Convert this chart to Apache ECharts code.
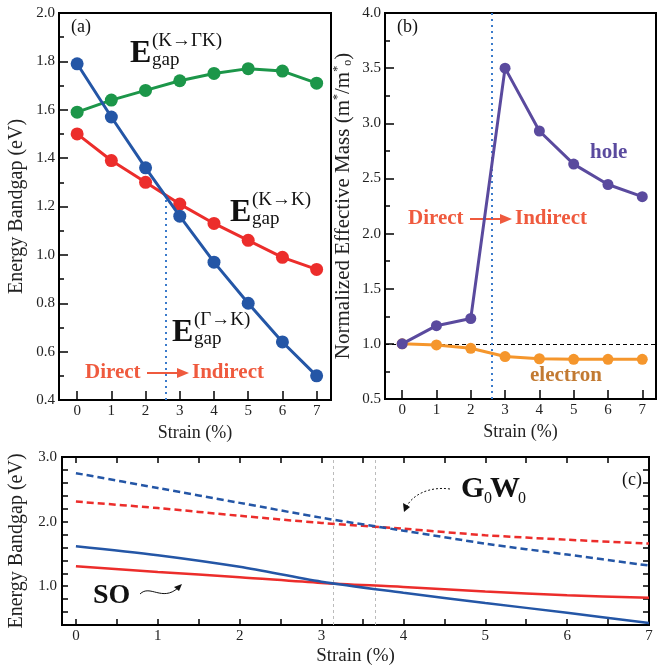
<!DOCTYPE html>
<html>
<head>
<meta charset="utf-8">
<script src="https://cdn.jsdelivr.net/npm/echarts@6/dist/echarts.min.js"></script>
<style>
  html, body { margin: 0; padding: 0; background: #fff; }
  #chart { width: 658px; height: 666px; }
</style>
</head>
<body>
<div id="chart"></div>
<script>
// strain axis and tick labels
const strain = [0, 1, 2, 3, 4, 5, 6, 7];
const strainTicksC = [0, 0.5, 1, 1.5, 2, 2.5, 3, 3.5, 4, 4.5, 5, 5.5, 6, 6.5, 7];
const gapTicksC = [0.4, 0.6, 0.8, 1.0, 1.2, 1.4, 1.6, 1.8, 2.0, 2.2, 2.4, 2.6, 2.8, 3.0];
const gapLabelsC = [1.0, 2.0, 3.0];

// (a) band gaps (eV)
const gapGammaK = [1.79, 1.57, 1.36, 1.16, 0.97, 0.80, 0.64, 0.50];
const gapKK = [1.50, 1.39, 1.30, 1.21, 1.13, 1.06, 0.99, 0.94];
const gapKGammaK = [1.59, 1.64, 1.68, 1.72, 1.75, 1.77, 1.76, 1.71];

// (b) normalized effective masses
const holeMass = [1.0, 1.165, 1.23, 3.50, 2.93, 2.63, 2.445, 2.335];
const electronMass = [1.0, 0.99, 0.96, 0.885, 0.865, 0.86, 0.86, 0.86];

// (c) SO and G0W0 band gaps (eV)
const soGammaK = [1.62, 1.48, 1.30, 1.07, 0.90, 0.74, 0.59, 0.43];
const soKK = [1.31, 1.22, 1.14, 1.05, 0.99, 0.92, 0.86, 0.82];
const gwGammaK = [2.75, 2.52, 2.29, 2.06, 1.86, 1.66, 1.49, 1.32];
const gwKK = [2.31, 2.21, 2.09, 1.98, 1.89, 1.79, 1.72, 1.66];

// transition markers
const crossoverA = 2.6;
const crossoverTopA = 1.23;
const crossoverB = 2.6;
const crossC = [3.14, 3.66];

const FONT = '"Liberation Serif", "Times New Roman", serif';
const BLUE = '#2456a6', RED = '#ec2d2b', GREEN = '#1c9649';
const PURPLE = '#5a4a9e', ORANGE = '#f5962c', TXTRED = '#ef5a3e';

const pts = ys => strain.map((s, i) => [s, ys[i]]);

const chart = echarts.init(document.getElementById('chart'));

const axisCommon = {
  axisLine: { show: true, onZero: false, lineStyle: { color: '#000', width: 2 } },
  splitLine: { show: false },
  axisLabel: { color: '#222', fontFamily: FONT, fontSize: 15 },
  nameTextStyle: { color: '#222', fontFamily: FONT, fontSize: 18 }
};

function egap(x, y, sup) {
  return {
    type: 'group',
    children: [
      { type: 'text', x: x, y: y, style: { text: 'E', font: 'bold 32px ' + FONT, fill: '#111', verticalAlign: 'middle' } },
      { type: 'text', x: x + 22, y: y - 13, style: { text: sup, font: '19px ' + FONT, fill: '#111', verticalAlign: 'middle' } },
      { type: 'text', x: x + 22, y: y + 6, style: { text: 'gap', font: '19px ' + FONT, fill: '#111', verticalAlign: 'middle' } }
    ]
  };
}

function directArrow(x, y) {
  return {
    type: 'group',
    children: [
      { type: 'text', x: x, y: y, style: { text: 'Direct', font: 'bold 21px ' + FONT, fill: TXTRED, verticalAlign: 'middle' } },
      { type: 'line', shape: { x1: x + 62, y1: y, x2: x + 96, y2: y }, style: { stroke: TXTRED, lineWidth: 2 } },
      { type: 'polygon', shape: { points: [[x + 104, y], [x + 92, y - 5], [x + 92, y + 5]] }, style: { fill: TXTRED } },
      { type: 'text', x: x + 107, y: y, style: { text: 'Indirect', font: 'bold 21px ' + FONT, fill: TXTRED, verticalAlign: 'middle' } }
    ]
  };
}

const option = {
  backgroundColor: '#fff',
  animation: false,
  grid: [
    { left: 59, top: 13, width: 272, height: 387, show: true, borderColor: '#000', borderWidth: 2, outerBoundsMode: 'none' },
    { left: 385, top: 13, width: 271, height: 386, show: true, borderColor: '#000', borderWidth: 2, outerBoundsMode: 'none' },
    { left: 62, top: 457, width: 587, height: 168, show: true, borderColor: '#000', borderWidth: 2, outerBoundsMode: 'none' }
  ],
  xAxis: [
    Object.assign({}, axisCommon, {
      type: 'value', gridIndex: 0, min: -0.53, max: 7.42,
      name: 'Strain (%)', nameLocation: 'middle', nameGap: 16,
      axisTick: { inside: true, length: 9, lineStyle: { width: 1.5, color: '#000' }, customValues: strain },
      axisLabel: Object.assign({}, axisCommon.axisLabel, { margin: 4, customValues: strain })
    }),
    Object.assign({}, axisCommon, {
      type: 'value', gridIndex: 1, min: -0.5, max: 7.4,
      name: 'Strain (%)', nameLocation: 'middle', nameGap: 17,
      axisTick: { inside: true, length: 9, lineStyle: { width: 1.5, color: '#000' }, customValues: strain },
      axisLabel: Object.assign({}, axisCommon.axisLabel, { margin: 4, customValues: strain })
    }),
    Object.assign({}, axisCommon, {
      type: 'value', gridIndex: 2, min: -0.17, max: 7,
      name: 'Strain (%)', nameLocation: 'middle', nameGap: 22,
      nameTextStyle: { color: '#222', fontFamily: FONT, fontSize: 19 },
      axisTick: { inside: true, length: 6, lineStyle: { width: 1.5, color: '#000' }, customValues: strainTicksC },
      axisLabel: Object.assign({}, axisCommon.axisLabel, { margin: 4, customValues: strain })
    }),
    Object.assign({}, axisCommon, {
      type: 'value', gridIndex: 2, min: -0.17, max: 7, position: 'top',
      axisTick: { inside: true, length: 6, lineStyle: { width: 1.5, color: '#000' }, customValues: strainTicksC },
      axisLabel: { show: false }
    })
  ],
  yAxis: [
    Object.assign({}, axisCommon, {
      type: 'value', gridIndex: 0, min: 0.4, max: 2.0, interval: 0.2,
      name: 'Energy Bandgap (eV)', nameLocation: 'middle', nameGap: 32,
      nameTextStyle: { color: '#222', fontFamily: FONT, fontSize: 20 },
      axisTick: { inside: true, length: 9, lineStyle: { width: 1.5, color: '#000' } },
      minorTick: { show: true, splitNumber: 2, length: 5, lineStyle: { width: 1.5, color: '#000' } },
      axisLabel: Object.assign({}, axisCommon.axisLabel, { margin: 4, formatter: v => v.toFixed(1) })
    }),
    Object.assign({}, axisCommon, {
      type: 'value', gridIndex: 1, min: 0.5, max: 4.0, interval: 0.5,
      name: 'Normalized Effective Mass (m{sup|*}/m{sup|*}{sub|o})', nameLocation: 'middle', nameGap: 31,
      nameTextStyle: {
        color: '#222', fontFamily: FONT, fontSize: 21, lineHeight: 22,
        rich: {
          sup: { fontFamily: FONT, fontSize: 12, lineHeight: 12, verticalAlign: 'top', color: '#222' },
          sub: { fontFamily: FONT, fontSize: 12, lineHeight: 12, verticalAlign: 'bottom', color: '#222' }
        }
      },
      axisTick: { inside: true, length: 9, lineStyle: { width: 1.5, color: '#000' } },
      minorTick: { show: true, splitNumber: 2, length: 5, lineStyle: { width: 1.5, color: '#000' } },
      axisLabel: Object.assign({}, axisCommon.axisLabel, { margin: 4, formatter: v => v.toFixed(1) })
    }),
    Object.assign({}, axisCommon, {
      type: 'value', gridIndex: 2, min: 0.4, max: 3.0,
      name: 'Energy Bandgap (eV)', nameLocation: 'middle', nameGap: 35,
      nameTextStyle: { color: '#222', fontFamily: FONT, fontSize: 20 },
      axisTick: { inside: true, length: 6, lineStyle: { width: 1.5, color: '#000' }, customValues: gapTicksC },
      axisLabel: Object.assign({}, axisCommon.axisLabel, { margin: 5, customValues: gapLabelsC, formatter: v => v.toFixed(1) })
    }),
    Object.assign({}, axisCommon, {
      type: 'value', gridIndex: 2, min: 0.4, max: 3.0, position: 'right',
      axisTick: { inside: true, length: 6, lineStyle: { width: 1.5, color: '#000' }, customValues: gapTicksC },
      axisLabel: { show: false }
    })
  ],
  series: [
    // (a)
    { type: 'line', xAxisIndex: 0, yAxisIndex: 0, data: pts(gapKGammaK), symbol: 'circle', symbolSize: 13,
      lineStyle: { color: GREEN, width: 3 }, itemStyle: { color: GREEN }, z: 3 },
    { type: 'line', xAxisIndex: 0, yAxisIndex: 0, data: pts(gapKK), symbol: 'circle', symbolSize: 13,
      lineStyle: { color: RED, width: 3 }, itemStyle: { color: RED }, z: 3 },
    { type: 'line', xAxisIndex: 0, yAxisIndex: 0, data: pts(gapGammaK), symbol: 'circle', symbolSize: 13,
      lineStyle: { color: BLUE, width: 3 }, itemStyle: { color: BLUE }, z: 4,
      markLine: { silent: true, symbol: 'none', label: { show: false },
        lineStyle: { color: '#3b7bcb', width: 2, type: [2, 4] },
        data: [[{ coord: [crossoverA, 0.4] }, { coord: [crossoverA, crossoverTopA] }]] } },
    // (b)
    { type: 'line', xAxisIndex: 1, yAxisIndex: 1, data: pts(electronMass), symbol: 'circle', symbolSize: 11,
      lineStyle: { color: ORANGE, width: 3 }, itemStyle: { color: ORANGE }, z: 3,
      markLine: { silent: true, symbol: 'none', label: { show: false }, z: 1,
        data: [
          { yAxis: 1.0, lineStyle: { color: '#000', width: 1, type: [4, 3] } },
          { xAxis: crossoverB, lineStyle: { color: '#3b7bcb', width: 2, type: [2, 4] } }
        ] } },
    { type: 'line', xAxisIndex: 1, yAxisIndex: 1, data: pts(holeMass), symbol: 'circle', symbolSize: 11,
      lineStyle: { color: PURPLE, width: 3 }, itemStyle: { color: PURPLE }, z: 4 },
    // (c)
    { type: 'line', xAxisIndex: 2, yAxisIndex: 2, data: pts(gwKK), showSymbol: false, smooth: 0.3,
      lineStyle: { color: RED, width: 2.5, type: [7, 4] },
      markLine: { silent: true, symbol: 'none', label: { show: false }, z: 1,
        lineStyle: { color: '#bbbbbb', width: 1, type: [3, 3] },
        data: crossC.map(v => ({ xAxis: v })) } },
    { type: 'line', xAxisIndex: 2, yAxisIndex: 2, data: pts(gwGammaK), showSymbol: false, smooth: 0.3,
      lineStyle: { color: BLUE, width: 2.5, type: [7, 4] } },
    { type: 'line', xAxisIndex: 2, yAxisIndex: 2, data: pts(soKK), showSymbol: false, smooth: 0.3,
      lineStyle: { color: RED, width: 2.5 } },
    { type: 'line', xAxisIndex: 2, yAxisIndex: 2, data: pts(soGammaK), showSymbol: false, smooth: 0.3,
      lineStyle: { color: BLUE, width: 2.5 } }
  ],
  graphic: [
    { type: 'text', x: 71, y: 27, style: { text: '(a)', font: '18px ' + FONT, fill: '#111', verticalAlign: 'middle' } },
    { type: 'text', x: 397, y: 27, style: { text: '(b)', font: '18px ' + FONT, fill: '#111', verticalAlign: 'middle' } },
    { type: 'text', x: 622, y: 480, style: { text: '(c)', font: '18px ' + FONT, fill: '#111', verticalAlign: 'middle' } },
    egap(130, 54, '(K\u2192\u0393K)'),
    egap(230, 213, '(K\u2192K)'),
    egap(172, 333, '(\u0393\u2192K)'),
    directArrow(85, 373),
    directArrow(408, 219),
    { type: 'text', x: 590, y: 153, style: { text: 'hole', font: 'bold 21px ' + FONT, fill: PURPLE, verticalAlign: 'middle' } },
    { type: 'text', x: 530, y: 376, style: { text: 'electron', font: 'bold 21px ' + FONT, fill: '#c27a32', verticalAlign: 'middle' } },
    // G0W0 label and dashed arrow
    { type: 'text', x: 461, y: 489, style: { text: 'G', font: 'bold 30px ' + FONT, fill: '#111', verticalAlign: 'middle' } },
    { type: 'text', x: 484, y: 499, style: { text: '0', font: '16px ' + FONT, fill: '#111', verticalAlign: 'middle' } },
    { type: 'text', x: 490, y: 489, style: { text: 'W', font: 'bold 30px ' + FONT, fill: '#111', verticalAlign: 'middle' } },
    { type: 'text', x: 518, y: 499, style: { text: '0', font: '16px ' + FONT, fill: '#111', verticalAlign: 'middle' } },
    { type: 'bezierCurve', shape: { x1: 450, y1: 489, cpx1: 428, cpy1: 486, cpx2: 412, cpy2: 496, x2: 407, y2: 506 },
      style: { stroke: '#111', lineWidth: 1, lineDash: [2, 2], fill: null } },
    { type: 'polygon', shape: { points: [[404, 512], [403, 503], [410, 507]] }, style: { fill: '#111' } },
    // SO label and wavy arrow
    { type: 'text', x: 93, y: 596, style: { text: 'SO', font: 'bold 28px ' + FONT, fill: '#111', verticalAlign: 'middle' } },
    { type: 'bezierCurve', shape: { x1: 140, y1: 594, cpx1: 150, cpy1: 584, cpx2: 162, cpy2: 602, x2: 178, y2: 588 },
      style: { stroke: '#111', lineWidth: 1, fill: null } },
    { type: 'polygon', shape: { points: [[182, 584], [174, 587], [179, 591]] }, style: { fill: '#111' } }
  ]
};

chart.setOption(option);
</script>
</body>
</html>
